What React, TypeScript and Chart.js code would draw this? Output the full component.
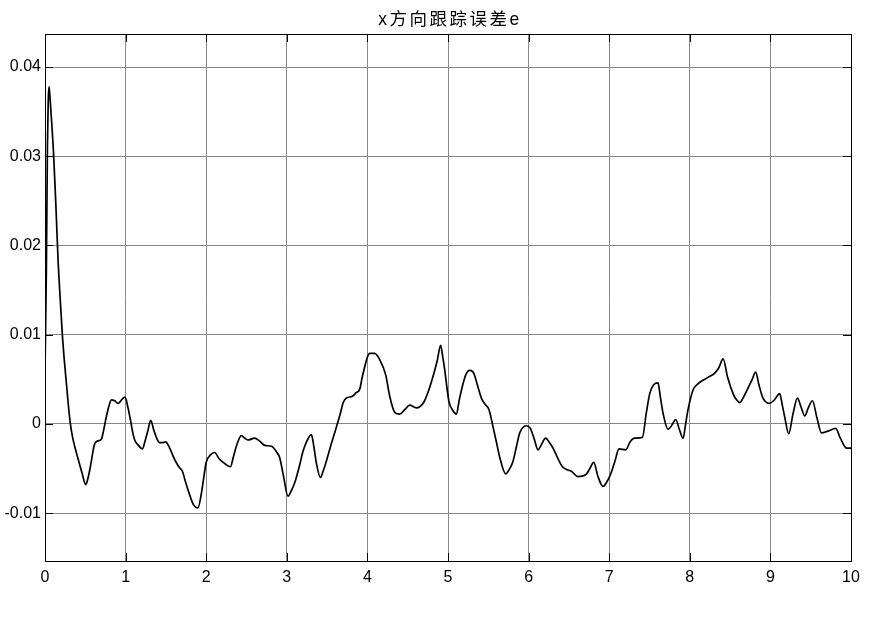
import React, { useEffect, useRef } from "react";
import { Chart, registerables } from "chart.js";

Chart.register(...registerables);

const timeValues: number[] = [
  0.0, 0.017, 0.03, 0.04, 0.05, 0.065, 0.085, 0.108, 0.135, 0.162, 0.19, 0.216, 0.24, 0.265, 0.29, 0.315,
  0.34, 0.368, 0.41, 0.46, 0.505, 0.53, 0.563, 0.595, 0.617, 0.658, 0.7, 0.725, 0.753, 0.79, 0.824, 0.865,
  0.906, 0.95, 0.993, 1.03, 1.06, 1.085, 1.113, 1.16, 1.208, 1.245, 1.278, 1.311, 1.35, 1.39, 1.423, 1.46,
  1.497, 1.547, 1.609, 1.66, 1.705, 1.74, 1.775, 1.845, 1.898, 1.94, 1.97, 2.0, 2.05, 2.105, 2.16, 2.21,
  2.3, 2.34, 2.374, 2.436, 2.48, 2.52, 2.6, 2.66, 2.726, 2.81, 2.87, 2.912, 2.96, 3.015, 3.05, 3.098,
  3.16, 3.2, 3.25, 3.305, 3.335, 3.367, 3.417, 3.45, 3.49, 3.54, 3.594, 3.665, 3.7, 3.74, 3.814, 3.86,
  3.905, 3.935, 3.967, 4.0, 4.029, 4.09, 4.153, 4.227, 4.277, 4.339, 4.4, 4.463, 4.525, 4.607, 4.698, 4.75,
  4.794, 4.864, 4.909, 4.935, 4.959, 4.985, 5.012, 5.06, 5.104, 5.14, 5.178, 5.22, 5.269, 5.319, 5.37, 5.414,
  5.46, 5.509, 5.558, 5.6, 5.641, 5.716, 5.76, 5.806, 5.85, 5.89, 5.972, 6.022, 6.07, 6.117, 6.16, 6.212,
  6.26, 6.303, 6.36, 6.42, 6.47, 6.53, 6.613, 6.708, 6.76, 6.808, 6.861, 6.923, 6.97, 7.015, 7.07, 7.122,
  7.205, 7.26, 7.316, 7.412, 7.46, 7.503, 7.552, 7.606, 7.635, 7.668, 7.73, 7.78, 7.825, 7.87, 7.916, 7.95,
  7.978, 8.04, 8.1, 8.164, 8.24, 8.31, 8.36, 8.413, 8.47, 8.537, 8.58, 8.62, 8.672, 8.722, 8.77, 8.817,
  8.86, 8.908, 8.991, 9.05, 9.115, 9.15, 9.177, 9.227, 9.28, 9.335, 9.38, 9.426, 9.47, 9.521, 9.58, 9.633,
  9.715, 9.81, 9.868, 9.943, 10.0,
];

const errorValues: number[] = [
  0.006, 0.0173, 0.031, 0.0362, 0.0378, 0.0362, 0.0335, 0.03, 0.0245, 0.0184, 0.0138, 0.0099, 0.0071, 0.0046, 0.0021, 0.0,
  -0.0014, -0.0025, -0.0039, -0.0055, -0.0068, -0.0062, -0.0048, -0.0031, -0.0022, -0.0019, -0.0017, -0.0008, 0.00045, 0.0019, 0.0027, 0.0026,
  0.0023, 0.0027, 0.003, 0.0018, 0.00045, -0.0008, -0.0018, -0.0024, -0.0028, -0.0018, -0.0007, 0.0004, -0.0007, -0.0017, -0.0021, -0.0021,
  -0.002, -0.0027, -0.004, -0.0048, -0.0053, -0.0064, -0.0074, -0.0091, -0.0094, -0.0078, -0.006, -0.0043, -0.0035, -0.0032, -0.0039, -0.0043,
  -0.0048, -0.0036, -0.0025, -0.0013, -0.0016, -0.0018, -0.0016, -0.0019, -0.0024, -0.0025, -0.0031, -0.0038, -0.0059, -0.0081, -0.0076, -0.0066,
  -0.0046, -0.0031, -0.0019, -0.0012, -0.0025, -0.0044, -0.006, -0.0053, -0.0042, -0.0026, -0.001, 0.0012, 0.0024, 0.0029, 0.0031, 0.0035,
  0.0039, 0.0052, 0.0064, 0.0075, 0.0079, 0.0079, 0.0072, 0.0055, 0.0031, 0.0013, 0.0011, 0.0016, 0.0021, 0.0018, 0.0024, 0.0035,
  0.0047, 0.007, 0.0088, 0.0075, 0.0061, 0.0042, 0.0025, 0.0015, 0.0011, 0.0027, 0.0042, 0.0055, 0.006, 0.0057, 0.0042, 0.0029,
  0.0022, 0.0016, -0.0003, -0.002, -0.0037, -0.0056, -0.0051, -0.0042, -0.0025, -0.001, -0.0002, -0.0005, -0.0017, -0.0029, -0.0023, -0.0016,
  -0.0021, -0.0027, -0.0038, -0.0048, -0.0051, -0.0053, -0.0059, -0.0057, -0.005, -0.0043, -0.0059, -0.007, -0.0065, -0.0057, -0.0042, -0.0028,
  -0.0029, -0.002, -0.0016, -0.0015, 0.0012, 0.0034, 0.0044, 0.0046, 0.003, 0.0012, -0.0006, -0.0001, 0.0005, -0.0006, -0.0016, 0.0001,
  0.0016, 0.0038, 0.0045, 0.0049, 0.0053, 0.0057, 0.0063, 0.0073, 0.0052, 0.0034, 0.0027, 0.0024, 0.0031, 0.004, 0.0049, 0.0058,
  0.0043, 0.0029, 0.0023, 0.0027, 0.0034, 0.002, 0.0008, -0.0011, 0.0011, 0.0029, 0.0019, 0.0009, 0.0018, 0.0026, 0.0006, -0.001,
  -0.0008, -0.0005, -0.0016, -0.0027, -0.0027,
];

const xTicks: number[] = [0, 1, 2, 3, 4, 5, 6, 7, 8, 9, 10];
const yTicks: number[] = [-0.01, 0, 0.01, 0.02, 0.03, 0.04];
const yTickLabels: string[] = ["-0.01", "0", "0.01", "0.02", "0.03", "0.04"];
const chartTitle = "x方向跟踪误差e";

const FONT = "'Liberation Sans', Arial, 'Noto Sans CJK SC', sans-serif";

const frameTicksPlugin = {
  id: "frameTicks",
  afterDraw(chart: any) {
    const { ctx, chartArea } = chart;
    const { left, right, top, bottom } = chartArea;
    const xs = chart.scales.x;
    const ys = chart.scales.y;
    const len = 8;
    ctx.save();
    ctx.strokeStyle = "#000";
    ctx.lineWidth = 1;
    ctx.beginPath();
    xTicks.forEach((t) => {
      const px = Math.round(xs.getPixelForValue(t)) + 0.5;
      ctx.moveTo(px, top);
      ctx.lineTo(px, top + len);
      ctx.moveTo(px, bottom);
      ctx.lineTo(px, bottom - len);
    });
    yTicks.forEach((v) => {
      const py = Math.round(ys.getPixelForValue(v)) + 0.5;
      ctx.moveTo(left, py);
      ctx.lineTo(left + len, py);
      ctx.moveTo(right, py);
      ctx.lineTo(right - len, py);
    });
    ctx.stroke();
    ctx.strokeRect(Math.round(left) + 0.5, Math.round(top) + 0.5, Math.round(right - left), Math.round(bottom - top));

    // title
    ctx.fillStyle = "#000";
    ctx.font = `17.5px ${FONT}`;
    (ctx as any).letterSpacing = "2.5px";
    ctx.textAlign = "center";
    ctx.textBaseline = "middle";
    ctx.fillText(chartTitle, (left + right) / 2 + 2, 20.5);
    ctx.restore();
  },
};

export default function App() {
  const canvasRef = useRef<HTMLCanvasElement | null>(null);

  useEffect(() => {
    document.body.style.margin = "0";
    const canvas = canvasRef.current;
    if (!canvas) return;
    const points = timeValues.map((t, i) => ({ x: t, y: errorValues[i] }));
    const chart = new Chart(canvas, {
      type: "line",
      data: {
        datasets: [
          {
            data: points,
            borderColor: "#000",
            borderWidth: 1.7,
            pointRadius: 0,
            fill: false,
            cubicInterpolationMode: "monotone",
          },
        ],
      },
      options: {
        responsive: false,
        animation: false,
        devicePixelRatio: 1,
        layout: { padding: { left: 0, right: 24, top: 34, bottom: 0 } },
        plugins: {
          legend: { display: false },
          tooltip: { enabled: false },
          title: { display: false },
        },
        scales: {
          x: {
            type: "linear",
            min: 0,
            max: 10,
            afterFit: (scale: any) => {
              scale.height = 58;
            },
            afterBuildTicks: (scale: any) => {
              scale.ticks = xTicks.map((v) => ({ value: v }));
            },
            ticks: {
              color: "#000",
              font: { family: FONT, size: 16 },
              padding: 7,
              maxRotation: 0,
              callback: (v: any) => String(v),
            },
            grid: { color: "#888", lineWidth: 1, drawTicks: false },
            border: { display: false },
          },
          y: {
            type: "linear",
            min: -0.01536,
            max: 0.0437,
            afterFit: (scale: any) => {
              scale.width = 45;
            },
            afterBuildTicks: (scale: any) => {
              scale.ticks = yTicks.map((v) => ({ value: v }));
            },
            ticks: {
              color: "#000",
              font: { family: FONT, size: 16 },
              padding: 4,
              callback: (v: any) => {
                const idx = yTicks.findIndex((t) => Math.abs(t - Number(v)) < 1e-9);
                return idx >= 0 ? yTickLabels[idx] : "";
              },
            },
            grid: { color: "#888", lineWidth: 1, drawTicks: false },
            border: { display: false },
          },
        },
      },
      plugins: [frameTicksPlugin],
    });
    return () => {
      chart.destroy();
    };
  }, []);

  return (
    <div style={{ width: 875, height: 619, background: "#fff" }}>
      <canvas ref={canvasRef} width={875} height={619} style={{ display: "block" }} />
    </div>
  );
}
